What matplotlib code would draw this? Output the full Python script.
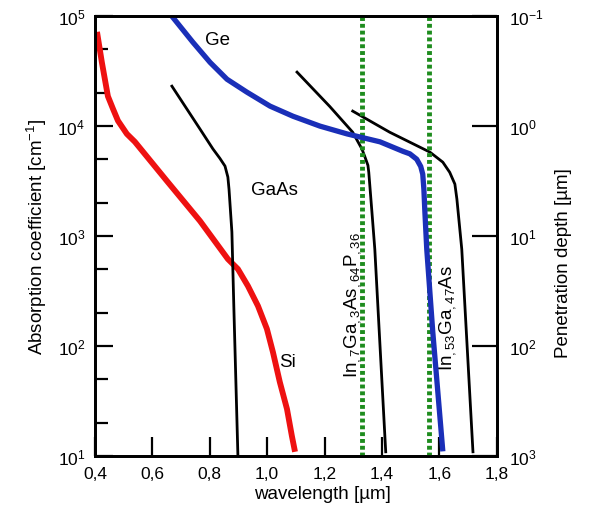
import matplotlib
matplotlib.use("Agg")
import matplotlib.pyplot as plt
from matplotlib.ticker import FixedLocator, NullFormatter

plt.rcParams["font.family"] = ["Liberation Sans", "DejaVu Sans"]
plt.rcParams["mathtext.fontset"] = "custom"
plt.rcParams["mathtext.rm"] = "Liberation Sans"
plt.rcParams["mathtext.it"] = "Liberation Sans:italic"

# wavelength [um] / absorption coefficient [1/cm]
si_wl = [0.407, 0.424, 0.445, 0.463, 0.480, 0.511, 0.539, 0.651, 0.766,
         0.863, 0.898, 0.933, 0.968, 0.999, 1.020, 1.044, 1.069, 1.086,
         1.097]
si_alpha = [7.2e4, 3.8e4, 1.87e4, 1.43e4, 1.12e4, 8.5e3, 7.2e3, 3.16e3,
            1.37e3, 618, 501, 351, 231, 143, 88, 47, 26.7, 15.2, 10.9]

gaas_wl = [0.668, 0.766, 0.811, 0.835, 0.853, 0.863, 0.867, 0.877, 0.884,
           0.898]
gaas_alpha = [2.31e4, 9.4e3, 6.2e3, 5.1e3, 4.33e3, 3.44e3, 2.67e3, 1.09e3,
              217, 10]

ge_wl = [0.668, 0.741, 0.801, 0.860, 0.929, 1.010, 1.090, 1.184, 1.278,
         1.393, 1.473, 1.497, 1.521, 1.535, 1.542, 1.546, 1.549, 1.556,
         1.577, 1.612]
ge_alpha = [1.0e5, 5.8e4, 3.8e4, 2.67e4, 2.04e4, 1.52e4, 1.23e4, 1.0e4,
            8.5e3, 7.2e3, 5.9e3, 5.6e3, 5.0e3, 4.3e3, 3.66e3, 2.67e3,
            1.76e3, 760, 134, 11]

ingaasp_wl = [1.104, 1.218, 1.298, 1.330, 1.340, 1.351, 1.354, 1.365, 1.375,
              1.413]
ingaasp_alpha = [3.1e4, 1.51e4, 8.8e3, 6.2e3, 5.3e3, 4.4e3, 3.8e3, 1.65e3,
                 760, 10.9]

ingaas_wl = [1.298, 1.427, 1.567, 1.612, 1.636, 1.654, 1.661, 1.678, 1.717]
ingaas_alpha = [1.37e4, 8.8e3, 5.8e3, 4.7e3, 3.8e3, 2.97e3, 2.17e3, 760,
                10.9]

telecom_wl = [1.33, 1.565]

x_ticks = [0.4, 0.6, 0.8, 1.0, 1.2, 1.4, 1.6, 1.8]
x_labels = ["0,4", "0,6", "0,8", "1,0", "1,2", "1,4", "1,6", "1,8"]

fig = plt.figure(figsize=(5.9, 5.06), dpi=100)
ax = fig.add_axes([0.161, 0.097, 0.681, 0.869])

for wl in telecom_wl:
    ax.plot([wl, wl], [10, 1e5], color="#1e8c1e", linewidth=3.5,
            linestyle=(0, (0.8, 0.6)), dash_capstyle="butt", zorder=3)

ax.plot(si_wl, si_alpha, color="#ee1111", linewidth=4.2,
        solid_joinstyle="round", solid_capstyle="butt", zorder=2)
ax.plot(gaas_wl, gaas_alpha, color="black", linewidth=2,
        solid_joinstyle="round", zorder=2)
ax.plot(ingaasp_wl, ingaasp_alpha, color="black", linewidth=2,
        solid_joinstyle="round", zorder=2)
ax.plot(ingaas_wl, ingaas_alpha, color="black", linewidth=2,
        solid_joinstyle="round", zorder=2)
ax.plot(ge_wl, ge_alpha, color="#1a2fb8", linewidth=3.8,
        solid_joinstyle="round", solid_capstyle="butt", zorder=4)

ax.set_yscale("log")
ax.set_xlim(0.4, 1.8)
ax.set_ylim(10, 1e5)
ax.set_xticks(x_ticks)
ax.set_xticklabels(x_labels)
ax.yaxis.set_minor_locator(FixedLocator(
    [m * 10.0 ** e for e in range(1, 5) for m in (2, 5)]))
ax.yaxis.set_minor_formatter(NullFormatter())

ax.tick_params(axis="both", which="major", direction="in", labelsize=12.5,
               width=1.6, pad=7)
ax.tick_params(axis="y", which="major", length=13)
ax.tick_params(axis="y", which="minor", direction="in", length=9, width=1.6)
ax.tick_params(axis="x", which="major", length=14)
for s in ax.spines.values():
    s.set_linewidth(2)

ax.set_xlabel("wavelength [µm]", fontsize=13.5, labelpad=3, x=0.567)
ax.set_ylabel("Absorption coefficient [cm$^{-1}$]", fontsize=13.5,
              labelpad=6)

ax2 = ax.twinx()
ax2.set_yscale("log")
ax2.set_ylim(1e3, 1e-1)
ax2.yaxis.set_minor_locator(FixedLocator([]))
ax2.tick_params(axis="y", which="major", direction="in", length=18,
                width=1.6, labelsize=12.5, pad=9)
for s in ax2.spines.values():
    s.set_linewidth(2)
ax2.set_ylabel("Penetration depth [µm]", fontsize=13.5, labelpad=8, y=0.44)

ax.text(0.828, 6.2e4, "Ge", fontsize=13.5, ha="center", va="center")
ax.text(1.027, 2.67e3, "GaAs", fontsize=13.5, ha="center", va="center")
ax.text(1.069, 73, "Si", fontsize=13.5, ha="center", va="center")
ax.text(1.299, 240, r"In$_{,7}$Ga$_{,3}$As$_{,64}$P$_{,36}$", fontsize=13.5,
        rotation=90, ha="center", va="center")
ax.text(1.63, 182, r"In$_{,53}$Ga$_{,47}$As", fontsize=13.5,
        rotation=90, ha="center", va="center")

fig.savefig("out.png", dpi=100)
